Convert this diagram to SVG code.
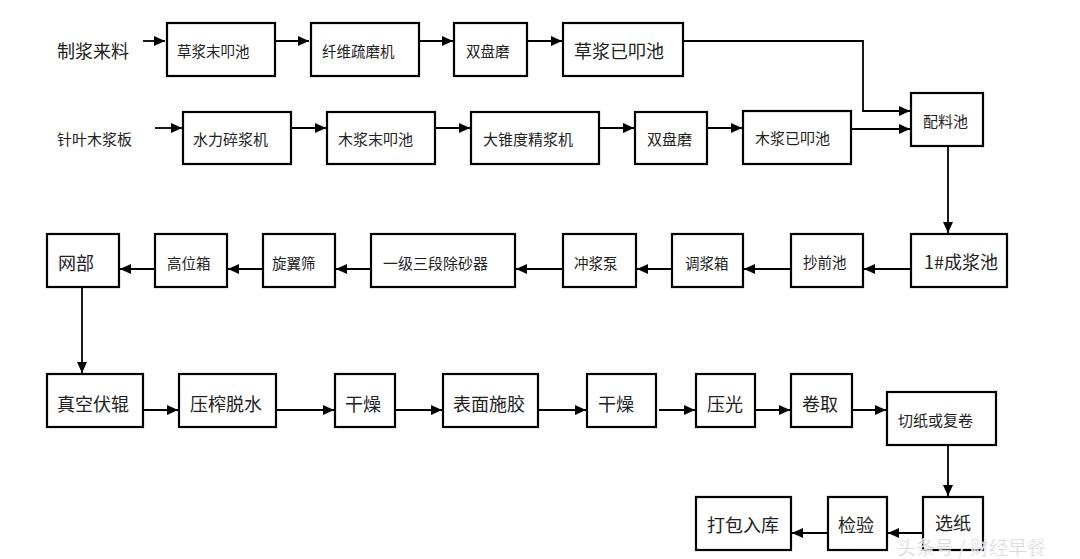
<svg xmlns="http://www.w3.org/2000/svg" width="1080" height="559" viewBox="0 0 1080 559">
<style>
.b{fill:#fff;stroke:#000;stroke-width:2.2}
.t{font-family:"Noto Sans CJK SC","Liberation Serif",sans-serif;fill:#222;dominant-baseline:central}
.s{font-size:14.5px}
.m{font-size:15px}
.l{font-size:18px}
.c{fill:none;stroke:#000;stroke-width:1.8}
</style>
<defs>
<marker id="a" markerUnits="userSpaceOnUse" markerWidth="12" markerHeight="10" refX="11" refY="5" orient="auto">
<path d="M0,0 L11,5 L0,10 Z" fill="#000"/>
</marker>
</defs>
<rect width="1080" height="559" fill="#fff"/>
<g id="connectors">
<path class="c" d="M143,41 H165" marker-end="url(#a)"/>
<path class="c" d="M276,41 H309" marker-end="url(#a)"/>
<path class="c" d="M419,41 H453" marker-end="url(#a)"/>
<path class="c" d="M527,41 H562" marker-end="url(#a)"/>
<path class="c" d="M683,41 H863 V111 H910" marker-end="url(#a)"/>
<path class="c" d="M155,128 H182" marker-end="url(#a)"/>
<path class="c" d="M291,128 H326" marker-end="url(#a)"/>
<path class="c" d="M435,128 H470" marker-end="url(#a)"/>
<path class="c" d="M599,128 H634" marker-end="url(#a)"/>
<path class="c" d="M707,128 H742" marker-end="url(#a)"/>
<path class="c" d="M851,129 H910" marker-end="url(#a)"/>
<path class="c" d="M948,146 V233" marker-end="url(#a)"/>
<path class="c" d="M911,269 H864" marker-end="url(#a)"/>
<path class="c" d="M791,269 H744" marker-end="url(#a)"/>
<path class="c" d="M672,269 H637" marker-end="url(#a)"/>
<path class="c" d="M563,269 H516" marker-end="url(#a)"/>
<path class="c" d="M371,269 H336" marker-end="url(#a)"/>
<path class="c" d="M263,269 H228" marker-end="url(#a)"/>
<path class="c" d="M155,269 H120" marker-end="url(#a)"/>
<path class="c" d="M82,287 V373" marker-end="url(#a)"/>
<path class="c" d="M143,410 H178" marker-end="url(#a)"/>
<path class="c" d="M276,410 H334" marker-end="url(#a)"/>
<path class="c" d="M395,410 H442" marker-end="url(#a)"/>
<path class="c" d="M538,410 H586" marker-end="url(#a)"/>
<path class="c" d="M659,410 H695" marker-end="url(#a)"/>
<path class="c" d="M755,410 H790" marker-end="url(#a)"/>
<path class="c" d="M852,410 H886" marker-end="url(#a)"/>
<path class="c" d="M948,445 V496" marker-end="url(#a)"/>
<path class="c" d="M923,533 H888" marker-end="url(#a)"/>
<path class="c" d="M828,533 H792" marker-end="url(#a)"/>
</g>
<g id="src1"><text class="t l" x="57" y="50">制浆来料</text></g>
<g id="src2"><text class="t m" x="57" y="138">针叶木浆板</text></g>
<g id="n1"><rect class="b" x="167" y="23" width="108" height="53"/><text class="t s" x="177" y="50">草浆末叩池</text></g>
<g id="n2"><rect class="b" x="311" y="23" width="108" height="53"/><text class="t s" x="322" y="50">纤维疏磨机</text></g>
<g id="n3"><rect class="b" x="454" y="23" width="73" height="53"/><text class="t s" x="466" y="50">双盘磨</text></g>
<g id="n4"><rect class="b" x="563" y="23" width="120" height="53"/><text class="t l" x="574" y="50">草浆已叩池</text></g>
<g id="n5"><rect class="b" x="183" y="112" width="108" height="52"/><text class="t m" x="193" y="138">水力碎浆机</text></g>
<g id="n6"><rect class="b" x="327" y="112" width="108" height="52"/><text class="t m" x="338" y="138">木浆末叩池</text></g>
<g id="n7"><rect class="b" x="471" y="112" width="128" height="52"/><text class="t m" x="483" y="138">大锥度精浆机</text></g>
<g id="n8"><rect class="b" x="635" y="112" width="72" height="52"/><text class="t m" x="647" y="138">双盘磨</text></g>
<g id="n9"><rect class="b" x="743" y="111" width="108" height="53"/><text class="t m" x="755" y="137">木浆已叩池</text></g>
<g id="n10"><rect class="b" x="911" y="93" width="72" height="53"/><text class="t m" x="923" y="120">配料池</text></g>
<g id="n11"><rect class="b" x="911" y="234" width="96" height="53"/><text class="t l" x="924" y="261">1#成浆池</text></g>
<g id="n12"><rect class="b" x="791" y="234" width="72" height="53"/><text class="t s" x="803" y="261">抄前池</text></g>
<g id="n13"><rect class="b" x="672" y="234" width="71" height="53"/><text class="t s" x="685" y="262">调浆箱</text></g>
<g id="n14"><rect class="b" x="563" y="234" width="73" height="53"/><text class="t s" x="574" y="262">冲浆泵</text></g>
<g id="n15"><rect class="b" x="371" y="234" width="144" height="53"/><text class="t m" x="383" y="262">一级三段除砂器</text></g>
<g id="n16"><rect class="b" x="263" y="234" width="72" height="53"/><text class="t s" x="272" y="262">旋翼筛</text></g>
<g id="n17"><rect class="b" x="155" y="234" width="72" height="53"/><text class="t s" x="167" y="262">高位箱</text></g>
<g id="n18"><rect class="b" x="47" y="234" width="72" height="53"/><text class="t l" x="58" y="262">网部</text></g>
<g id="n19"><rect class="b" x="47" y="374" width="96" height="53"/><text class="t l" x="57" y="403">真空伏辊</text></g>
<g id="n20"><rect class="b" x="179" y="374" width="97" height="53"/><text class="t l" x="190" y="403">压榨脱水</text></g>
<g id="n21"><rect class="b" x="335" y="374" width="60" height="53"/><text class="t l" x="345" y="403">干燥</text></g>
<g id="n22"><rect class="b" x="443" y="374" width="95" height="53"/><text class="t l" x="453" y="403">表面施胶</text></g>
<g id="n23"><rect class="b" x="587" y="374" width="69" height="53"/><text class="t l" x="598" y="403">干燥</text></g>
<g id="n24"><rect class="b" x="696" y="374" width="59" height="53"/><text class="t l" x="707" y="403">压光</text></g>
<g id="n25"><rect class="b" x="791" y="374" width="61" height="53"/><text class="t l" x="802" y="403">卷取</text></g>
<g id="n26"><rect class="b" x="887" y="392" width="109" height="53"/><text class="t m" x="898" y="419">切纸或复卷</text></g>
<g id="n27"><rect class="b" x="923" y="497" width="60" height="53"/><text class="t l" x="935" y="522">选纸</text></g>
<g id="n28"><rect class="b" x="828" y="497" width="59" height="53"/><text class="t l" x="838" y="524">检验</text></g>
<g id="n29"><rect class="b" x="696" y="497" width="95" height="53"/><text class="t l" x="707" y="524">打包入库</text></g>
<g id="watermark"><text x="897" y="546" font-family="Noto Sans CJK SC, sans-serif" font-size="19" fill="#c8c8c8" fill-opacity="0.9" stroke="#fff" stroke-width="0.5" dominant-baseline="central">头条号 / 财经早餐</text></g>
</svg>
